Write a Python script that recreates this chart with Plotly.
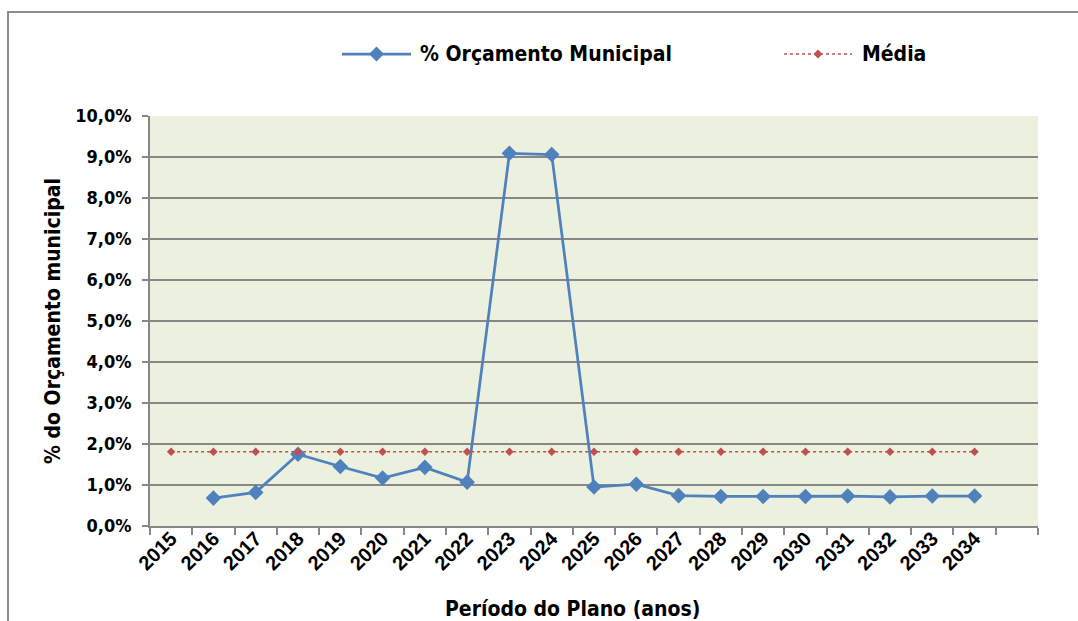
import plotly.graph_objects as go

# Anos do plano e séries (valores em %)
anos = ["2015", "2016", "2017", "2018", "2019", "2020", "2021", "2022", "2023", "2024",
        "2025", "2026", "2027", "2028", "2029", "2030", "2031", "2032", "2033", "2034"]
orcamento_anos = anos[1:]
orcamento_pct = [0.68, 0.82, 1.75, 1.45, 1.17, 1.43, 1.07, 9.09, 9.06,
                 0.95, 1.02, 0.74, 0.72, 0.72, 0.72, 0.73, 0.71, 0.73, 0.73]
media_pct = [1.81, 1.81, 1.81, 1.81, 1.81, 1.81, 1.81, 1.81, 1.81, 1.81,
             1.81, 1.81, 1.81, 1.81, 1.81, 1.81, 1.81, 1.81, 1.81, 1.81]
y_ticks = [0, 1, 2, 3, 4, 5, 6, 7, 8, 9, 10]
y_tick_labels = ["0,0%", "1,0%", "2,0%", "3,0%", "4,0%", "5,0%",
                 "6,0%", "7,0%", "8,0%", "9,0%", "10,0%"]

NARROW = "DejaVu Sans Condensed, Liberation Sans Narrow, Arial Narrow, sans-serif"
BOLD = "Liberation Sans, Arial, sans-serif"
GRID = "#878787"
BLUE = "#4F81BD"
RED = "#C0504D"

pos = {a: i for i, a in enumerate(anos)}

fig = go.Figure()
fig.add_trace(go.Scatter(
    x=[pos[a] for a in orcamento_anos], y=orcamento_pct,
    mode="lines+markers", name="% Orçamento Municipal",
    line=dict(color=BLUE, width=2.75),
    marker=dict(symbol="diamond", size=12, color=BLUE),
))
fig.add_trace(go.Scatter(
    x=[pos[a] for a in anos], y=media_pct,
    mode="lines+markers", name="Média",
    line=dict(color=RED, width=1.5, dash="dot"),
    marker=dict(symbol="diamond", size=6.5, color=RED),
))

W, H = 1078, 621
L, R, T, B = 150, 40, 116, 95
pw, ph = W - L - R, H - T - B


def px_x(p):
    return (p - L) / pw


def px_y(p):
    return (H - B - p) / ph


def diamond(cx, cy, r):
    pts = [(cx, cy - r), (cx + r, cy), (cx, cy + r), (cx - r, cy)]
    return "M " + " L ".join(f"{px_x(x):.5f},{px_y(y):.5f}" for x, y in pts) + " Z"


# Legenda desenhada no topo do gráfico
LEG_Y = 54
legend_shapes = [
    dict(type="line", xref="paper", yref="paper", x0=px_x(342), x1=px_x(411),
         y0=px_y(LEG_Y), y1=px_y(LEG_Y), line=dict(color=BLUE, width=2.75)),
    dict(type="path", xref="paper", yref="paper", path=diamond(376.5, LEG_Y, 7.5),
         fillcolor=BLUE, line=dict(width=0)),
    dict(type="line", xref="paper", yref="paper", x0=px_x(784), x1=px_x(852),
         y0=px_y(LEG_Y), y1=px_y(LEG_Y), line=dict(color=RED, width=1.5, dash="dot")),
    dict(type="path", xref="paper", yref="paper", path=diamond(818, LEG_Y, 4.5),
         fillcolor=RED, line=dict(width=0)),
]
legend_texts = [
    dict(text="% Orçamento Municipal", xref="paper", yref="paper",
         x=px_x(418), y=px_y(LEG_Y), xanchor="left", yanchor="middle", showarrow=False,
         font=dict(family=NARROW, size=21, color="black", weight="bold")),
    dict(text="Média", xref="paper", yref="paper",
         x=px_x(860), y=px_y(LEG_Y), xanchor="left", yanchor="middle", showarrow=False,
         font=dict(family=NARROW, size=21, color="black", weight="bold")),
]

fig.update_layout(
    width=W, height=H,
    margin=dict(l=L, r=R, t=T, b=B),
    paper_bgcolor="white",
    plot_bgcolor="#EBF1DE",
    showlegend=False,
    xaxis=dict(
        range=[-0.5, 20.5],
        tickmode="array", tickvals=list(range(len(anos))), ticktext=anos,
        tickangle=-45, ticks="", showgrid=False, zeroline=False,
        showline=True, linecolor=GRID, linewidth=2,
        ticklabelstandoff=-9,
        tickfont=dict(family=BOLD, size=20, color="black", weight="bold"),
        minor=dict(tickvals=[i - 0.5 for i in range(len(anos) + 2)],
                   ticks="outside", ticklen=7, tickwidth=2, tickcolor=GRID, showgrid=False),
    ),
    yaxis=dict(
        range=[0, 10], tickmode="array", tickvals=y_ticks, ticktext=y_tick_labels,
        showgrid=True, gridcolor=GRID, gridwidth=2, zeroline=False,
        showline=True, linecolor=GRID, linewidth=2,
        ticks="outside", ticklen=6, tickwidth=2, tickcolor=GRID,
        ticklabelstandoff=7,
        tickfont=dict(family=NARROW, size=18, color="black", weight="bold"),
    ),
    shapes=[dict(type="rect", xref="paper", yref="paper",
                 x0=px_x(8), x1=px_x(1100), y0=px_y(650), y1=px_y(12),
                 line=dict(color="#8C8C8C", width=2), layer="below")] + legend_shapes,
    annotations=[
        dict(text="% do Orçamento municipal", xref="paper", yref="paper",
             x=px_x(53), y=px_y(321), xanchor="center", yanchor="middle",
             textangle=-90, showarrow=False,
             font=dict(family=NARROW, size=21, color="black", weight="bold")),
        dict(text="Período do Plano (anos)", xref="paper", yref="paper",
             x=px_x(572), y=px_y(609), xanchor="center", yanchor="middle",
             showarrow=False,
             font=dict(family=NARROW, size=21, color="black", weight="bold")),
    ] + legend_texts,
)

fig.write_html("out.html")
